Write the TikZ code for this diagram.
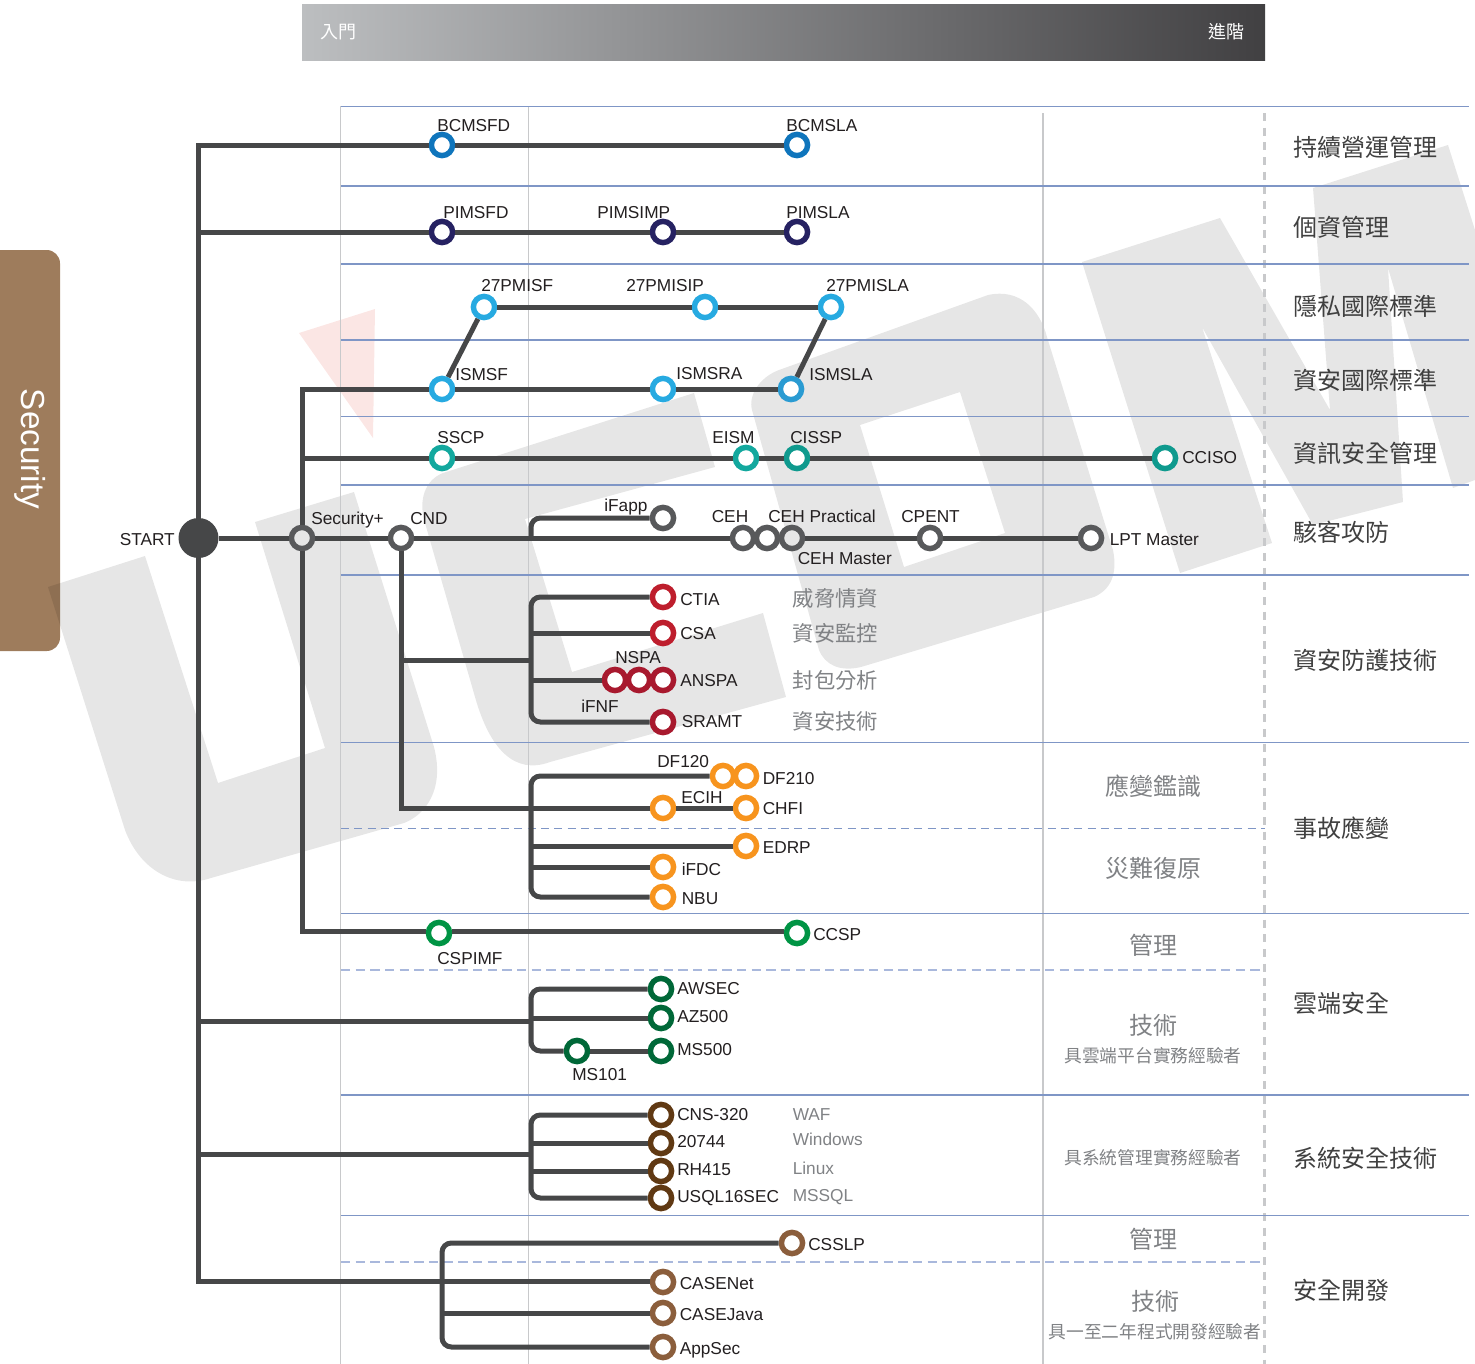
\documentclass[tikz,border=0pt]{standalone}
\usepackage{fontspec}
\setmainfont{Liberation Sans}
\newfontfamily\cjk{Noto Sans CJK TC}
\definecolor{wm}{HTML}{E6E6E6}
\definecolor{wmred}{HTML}{FBE6E4}
\definecolor{panel}{HTML}{9E7C5C}
\definecolor{metroc}{HTML}{464748}
\definecolor{hline}{HTML}{7F96C6}
\definecolor{dline}{HTML}{A9B8DC}
\definecolor{vline}{HTML}{C8C9CB}
\definecolor{cblue}{HTML}{0F75BC}
\definecolor{cnavy}{HTML}{262262}
\definecolor{csky}{HTML}{27AAE1}
\definecolor{cskyd}{HTML}{2A9BD2}
\definecolor{cteal}{HTML}{13A89E}
\definecolor{ctead}{HTML}{0F9A8E}
\definecolor{cgray}{HTML}{58595B}
\definecolor{cred}{HTML}{BE1E2D}
\definecolor{cmar}{HTML}{A8192E}
\definecolor{corg}{HTML}{F7941E}
\definecolor{cgrn}{HTML}{009444}
\definecolor{cdgr}{HTML}{006838}
\definecolor{cdbr}{HTML}{603913}
\definecolor{cbrn}{HTML}{8B5E3C}
\definecolor{ink}{HTML}{231F20}
\definecolor{dim}{HTML}{808285}
\definecolor{gradl}{HTML}{BCBEC0}
\definecolor{gradr}{HTML}{414042}
\tikzset{
  metro/.style={draw=metroc,line width=3.75pt},
  bracket/.style={metro,rounded corners=7pt},
  ring/.style={circle,draw=#1,line width=4.1pt,fill=white,minimum size=15.9pt,inner sep=0pt},
  ringg/.style={ring=cgray,fill=wm},
  lbl/.style={anchor=base west,inner sep=0pt,text=ink,font=\fontsize{12.95pt}{14pt}\selectfont},
  dimlbl/.style={lbl,text=dim},
  cat/.style={anchor=west,inner sep=0pt,text=black!75,font=\cjk\fontsize{18pt}{20pt}\selectfont},
  sub/.style={anchor=west,inner sep=0pt,text=dim,font=\cjk\fontsize{16pt}{18pt}\selectfont},
  mid/.style={anchor=center,inner sep=0pt,text=dim,font=\cjk\fontsize{18pt}{20pt}\selectfont},
  note/.style={anchor=center,inner sep=0pt,text=dim,font=\cjk\fontsize{13.3pt}{15pt}\selectfont},
  hgrid/.style={draw=hline,line width=.9pt},
  vgrid/.style={draw=vline,line width=.9pt},
}
\newcommand\tl[4]{\node[lbl] (#1) at (#2,#3) {#4};}
\newcommand\dl[4]{\node[dimlbl] (#1) at (#2,#3) {#4};}
\begin{document}
\begin{tikzpicture}[x=.75pt,y=-.75pt]
\useasboundingbox (0,0) rectangle (1475,1364);
% side panel
\fill[panel] (0,250) [rounded corners=10pt] -- (60,250) -- (60,651) [sharp corners] -- (0,651) -- cycle;
\node[rotate=-90,text=white,inner sep=0pt,font=\fontsize{25pt}{27pt}\selectfont] (sec) at (30,449) {Security};
% watermark
\begin{scope}[blend mode=multiply]
\fill[wm] (48,587)--(145,556)--(218,783)--(325,748)--(255,522)--(354,492)--(434,747) .. controls (445,790) and (425,815) .. (404,823) -- (211,878) .. controls (175,890) and (140,870) .. (125,830) -- cycle;
\fill[wm] (694,393) -- (443,473) .. controls (425,480) and (418,500) .. (425,523) -- (475,697) .. controls (490,750) and (515,775) .. (550,762) -- (786,697) -- (763,613) -- (572,672) -- (525,519) -- (715,467) -- cycle;
\fill[wm,even odd rule] (779,370) -- (988,295) .. controls (1020,288) and (1040,310) .. (1047,337) -- (1113,550) .. controls (1118,575) and (1110,590) .. (1094,597) -- (861,667) .. controls (840,672) and (825,665) .. (819,650) -- (752,410) .. controls (748,395) and (760,377) .. (779,370) -- cycle
  (860,425) -- (960,392) -- (1005,533) -- (904,567) -- cycle;
\fill[wm] (1082,262) -- (1220,218) -- (1330,410) -- (1313,188) -- (1448,145) -- (1475,230) -- (1475,480) -- (1453,488) -- (1388,268) -- (1403,502) -- (1313,525) -- (1202,327) -- (1272,543) -- (1180,573) -- cycle;
\fill[wmred] (299,333) -- (375,309) -- (373,438) -- cycle;
\end{scope}
% header
\shade[left color=gradl,right color=gradr] (302,4) rectangle (1265,60);
\node[anchor=west,inner sep=0pt,text=white,font=\cjk\fontsize{13.5pt}{15pt}\selectfont] (beg) at (320,32) {入門};
\node[anchor=east,inner sep=0pt,text=white,font=\cjk\fontsize{13.5pt}{15pt}\selectfont] (adv) at (1245,32) {進階};
% grid
\draw[vgrid] (340.5,106) -- (340.5,1364);
\draw[vgrid] (528.5,106) -- (528.5,1364);
\draw[vgrid] (1043,113) -- (1043,1364);
\draw[draw=vline,line width=2pt,dash pattern=on 6pt off 5pt] (1264.5,113) -- (1264.5,1364);
\foreach \yy in {106.5,186,264,340,416.5,485,575,742.5,913.5,1095,1215.5}
  \draw[hgrid] (341,\yy) -- (1469,\yy);
\draw[draw=hline,line width=.7pt,dash pattern=on 6pt off 4pt] (341,828) -- (1265,828);
\draw[draw=dline,line width=1.2pt,dash pattern=on 7pt off 4pt] (341,970) -- (1265,970);
\draw[draw=dline,line width=1.2pt,dash pattern=on 7pt off 4pt] (341,1262) -- (1265,1262);
% nodes
\node[circle,fill=metroc,minimum size=30pt,inner sep=0pt] (start) at (198.5,538) {};
\node[ringg] (secp) at (302,538) {};
\node[ring=cgray] (cnd) at (401,538) {};
\node[ring=cgray] (ifapp) at (663,518) {};
\node[ring=cgray] (ceh) at (743,538) {};
\node[ring=cgray] (cehm) at (767,538) {};
\node[ringg] (cehp) at (792,538) {};
\node[ring=cgray] (cpent) at (930,538) {};
\node[ring=cgray] (lpt) at (1091,538) {};
\node[ring=cblue] (bfd) at (442,145) {};
\node[ring=cblue] (bla) at (797,145) {};
\node[ring=cnavy] (pfd) at (442,232) {};
\node[ring=cnavy] (pimp) at (663,232) {};
\node[ring=cnavy] (pla) at (797,232) {};
\node[ring=csky] (pmf) at (484,307) {};
\node[ring=csky] (pmip) at (705,307) {};
\node[ring=csky] (pml) at (831,307) {};
\node[ring=csky] (isf) at (442,389) {};
\node[ring=csky] (isra) at (663,389) {};
\node[ring=cskyd] (isla) at (791,389) {};
\node[ring=cteal] (sscp) at (442,458) {};
\node[ring=cteal] (eism) at (746,458) {};
\node[ring=ctead] (cissp) at (797,458) {};
\node[ring=ctead] (cciso) at (1165,458) {};
\node[ring=cred] (ctia) at (663,597) {};
\node[ring=cred] (csa) at (663,633) {};
\node[ring=cmar] (ifnf) at (615,680) {};
\node[ring=cmar] (nspa) at (639,680) {};
\node[ring=cmar] (anspa) at (663,680) {};
\node[ring=cmar] (sramt) at (663,722) {};
\node[ring=corg] (df120) at (723,776) {};
\node[ring=corg] (df210) at (746,776) {};
\node[ring=corg] (ecih) at (663,808) {};
\node[ring=corg] (chfi) at (746,808) {};
\node[ring=corg] (edrp) at (746,846) {};
\node[ring=corg] (ifdc) at (663,867) {};
\node[ring=corg] (nbu) at (663,897) {};
\node[ring=cgrn] (cspimf) at (439,933) {};
\node[ring=cgrn] (ccsp) at (797,933) {};
\node[ring=cdgr] (awsec) at (661,989) {};
\node[ring=cdgr] (az) at (661,1018) {};
\node[ring=cdgr] (ms101) at (577,1051) {};
\node[ring=cdgr] (ms500) at (661,1051) {};
\node[ring=cdbr] (cns) at (661,1115) {};
\node[ring=cdbr] (w20744) at (661,1143) {};
\node[ring=cdbr] (rh) at (661,1171) {};
\node[ring=cdbr] (usql) at (661,1198) {};
\node[ring=cbrn] (csslp) at (792,1243) {};
\node[ring=cbrn] (casen) at (663,1282) {};
\node[ring=cbrn] (casej) at (663,1313) {};
\node[ring=cbrn] (appsec) at (663,1347) {};
% junctions
\coordinate (top) at (198.5,145);
\coordinate (j232) at (198.5,232);
\coordinate (j1021) at (198.5,1021);
\coordinate (j1154) at (198.5,1154);
\coordinate (bot) at (198.5,1281);
\coordinate (sTop) at (302,389);
\coordinate (s458) at (302,458);
\coordinate (s931) at (302,931);
\coordinate (c660) at (401,660);
\coordinate (c808) at (401,808);
\coordinate (jf) at (531,538);
\coordinate (a660) at (531,660);
\coordinate (a633) at (531,633);
\coordinate (a680) at (531,680);
\coordinate (b808) at (531,808);
\coordinate (b846) at (531,846);
\coordinate (b867) at (531,867);
\coordinate (d1021) at (531,1021);
\coordinate (d1018) at (531,1018);
\coordinate (e1154) at (531,1154);
\coordinate (e1143) at (531,1143);
\coordinate (e1171) at (531,1171);
\coordinate (f1281) at (442,1281);
\coordinate (f1313) at (442,1313);
% connectors
\draw[metro] (bfd) -- (top) -- (start);
\draw[metro] (start) -- (bot) -- (f1281);
\draw[metro] (bfd) -- (bla);
\draw[metro] (j232) -- (pfd);
\draw[metro] (pfd) -- (pimp);
\draw[metro] (pimp) -- (pla);
\draw[metro] (start) -- (secp);
\draw[metro] (secp) -- (cnd);
\draw[metro] (cnd) -- (ceh);
\draw[metro] (cehp) -- (cpent);
\draw[metro] (cpent) -- (lpt);
\draw[metro] (secp) -- (sTop) -- (isf);
\draw[metro] (isf) -- (isra);
\draw[metro] (isra) -- (isla);
\draw[metro] (isf) -- (pmf);
\draw[metro] (pmf) -- (pmip);
\draw[metro] (pmip) -- (pml);
\draw[metro] (isla) -- (pml);
\draw[metro] (s458) -- (sscp);
\draw[metro] (sscp) -- (eism);
\draw[metro] (eism) -- (cissp);
\draw[metro] (cissp) -- (cciso);
\draw[metro] (secp) -- (s931) -- (cspimf.west |- s931);
\draw[metro] (cspimf.east |- s931) -- (ccsp.west |- s931);
\draw[metro] (cnd) -- (c808) -- (b808);
\draw[metro] (c660) -- (a660);
\draw[bracket] (jf) |- (ifapp);
\draw[bracket] (ctia) -| (a660) |- (sramt);
\draw[metro] (a633) -- (csa);
\draw[metro] (a680) -- (ifnf);
\draw[bracket] (df120) -| (b808) |- (nbu);
\draw[metro] (b808) -- (ecih);
\draw[metro] (ecih) -- (chfi);
\draw[metro] (b846) -- (edrp);
\draw[metro] (b867) -- (ifdc);
\draw[metro] (j1021) -- (d1021);
\draw[bracket] (awsec) -| (d1021) |- (ms101);
\draw[metro] (d1018) -- (az);
\draw[metro] (ms101) -- (ms500);
\draw[metro] (j1154) -- (e1154);
\draw[bracket] (cns) -| (e1154) |- (usql);
\draw[metro] (e1143) -- (w20744);
\draw[metro] (e1171) -- (rh);
\draw[bracket] (csslp) -| (f1281) |- (appsec);
\draw[metro] (f1281) -- (casen.west |- f1281);
\draw[metro] (f1313) -- (casej);
% labels
\tl{l1}{437}{131}{BCMSFD}
\tl{l2}{786}{131}{BCMSLA}
\tl{l3}{443}{218}{PIMSFD}
\tl{l4}{597}{218}{PIMSIMP}
\tl{l5}{786}{218}{PIMSLA}
\tl{l6}{481}{291}{27PMISF}
\tl{l7}{626}{291}{27PMISIP}
\tl{l8}{826}{291}{27PMISLA}
\tl{l9}{455}{380}{ISMSF}
\tl{l10}{676}{379}{ISMSRA}
\tl{l11}{809}{380}{ISMSLA}
\tl{l12}{437}{443}{SSCP}
\tl{l13}{712}{443}{EISM}
\tl{l14}{790}{443}{CISSP}
\tl{l15}{1182}{463}{CCISO}
\tl{l16}{119.5}{545}{START}
\tl{l17}{311}{524}{Security+}
\tl{l18}{410}{524}{CND}
\tl{l19}{604}{511}{iFapp}
\tl{l20}{711.5}{522}{CEH}
\tl{l21}{768}{522}{CEH Practical}
\tl{l22}{901}{522}{CPENT}
\tl{l23}{797.5}{564}{CEH Master}
\tl{l24}{1109.5}{545}{LPT Master}
\tl{l25}{680}{605}{CTIA}
\tl{l26}{680}{639}{CSA}
\tl{l27}{615}{663}{NSPA}
\tl{l28}{680}{686}{ANSPA}
\tl{l29}{581}{712}{iFNF}
\tl{l30}{681.5}{727}{SRAMT}
\tl{l31}{657}{767}{DF120}
\tl{l32}{762.5}{784}{DF210}
\tl{l33}{681}{803}{ECIH}
\tl{l34}{762.5}{814}{CHFI}
\tl{l35}{762.5}{853}{EDRP}
\tl{l36}{681.5}{875}{iFDC}
\tl{l37}{681.5}{904}{NBU}
\tl{l38}{813}{940}{CCSP}
\tl{l39}{437}{964}{CSPIMF}
\tl{l40}{677}{994}{AWSEC}
\tl{l41}{677}{1022}{AZ500}
\tl{l42}{677}{1055}{MS500}
\tl{l43}{572}{1080}{MS101}
\tl{l44}{677}{1120}{CNS-320}
\tl{l45}{677}{1147}{20744}
\tl{l46}{677}{1175}{RH415}
\tl{l47}{677}{1202}{USQL16SEC}
\dl{l48}{792.5}{1120}{WAF}
\dl{l49}{792.5}{1145}{Windows}
\dl{l50}{792.5}{1174}{Linux}
\dl{l51}{792.5}{1201}{MSSQL}
\tl{l52}{808}{1250}{CSSLP}
\tl{l53}{679.5}{1289}{CASENet}
\tl{l54}{679.5}{1320}{CASEJava}
\tl{l55}{679.5}{1354}{AppSec}
% categories
\node[cat] (k1) at (1293,147) {持續營運管理};
\node[cat] (k2) at (1293,227) {個資管理};
\node[cat] (k3) at (1293,306) {隱私國際標準};
\node[cat] (k4) at (1293,380) {資安國際標準};
\node[cat] (k5) at (1293,453) {資訊安全管理};
\node[cat] (k6) at (1293,532) {駭客攻防};
\node[cat] (k7) at (1293,660) {資安防護技術};
\node[cat] (k8) at (1293,828) {事故應變};
\node[cat] (k9) at (1293,1003) {雲端安全};
\node[cat] (k10) at (1293,1158) {系統安全技術};
\node[cat] (k11) at (1293,1290) {安全開發};
\node[sub] (s1) at (792.5,598) {威脅情資};
\node[sub] (s2) at (792.5,633) {資安監控};
\node[sub] (s3) at (792.5,680) {封包分析};
\node[sub] (s4) at (792.5,721) {資安技術};
\node[mid] (m1) at (1153,786) {應變鑑識};
\node[mid] (m2) at (1153,868) {災難復原};
\node[mid] (m3) at (1153,945) {管理};
\node[mid] (m4) at (1153,1025) {技術};
\node[note] (n1) at (1153,1056) {具雲端平台實務經驗者};
\node[note] (n2) at (1153,1158) {具系統管理實務經驗者};
\node[mid] (m5) at (1153,1239) {管理};
\node[mid] (m6) at (1155,1301) {技術};
\node[note] (n3) at (1155,1332) {具一至二年程式開發經驗者};
\end{tikzpicture}
\end{document}
